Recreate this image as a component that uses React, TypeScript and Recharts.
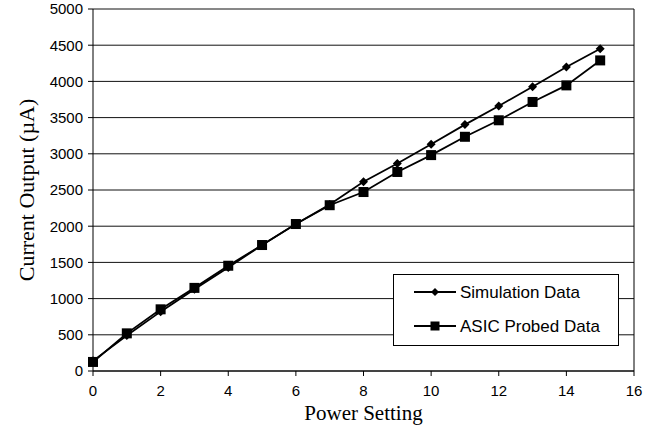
import { CartesianGrid, Line, LineChart, ReferenceLine, XAxis, YAxis, Label } from "recharts";

const POWER = [0, 1, 2, 3, 4, 5, 6, 7, 8, 9, 10, 11, 12, 13, 14, 15];
const SIMULATION = [140, 490, 820, 1130, 1430, 1740, 2030, 2300, 2615, 2866, 3133, 3403, 3661, 3926, 4198, 4450];
const ASIC_PROBED = [125, 520, 852, 1148, 1454, 1740, 2030, 2290, 2472, 2749, 2982, 3235, 3463, 3716, 3945, 4290];
const X_TICKS = [0, 2, 4, 6, 8, 10, 12, 14, 16];
const Y_TICKS = [0, 500, 1000, 1500, 2000, 2500, 3000, 3500, 4000, 4500, 5000];

const data = POWER.map((p, i) => ({ power: p, sim: SIMULATION[i], asic: ASIC_PROBED[i] }));

const Diamond = ({ cx, cy, r = 5 }: { cx: number; cy: number; r?: number }) => (
  <path d={`M${cx},${cy - r}L${cx + r},${cy}L${cx},${cy + r}L${cx - r},${cy}Z`} fill="#000" />
);
const Square = ({ cx, cy, s = 5 }: { cx: number; cy: number; s?: number }) => (
  <rect x={cx - s} y={cy - s} width={s * 2} height={s * 2} fill="#000" />
);

function LegendBox() {
  const row = (label: string, marker: "d" | "s") => (
    <div style={{ display: "flex", alignItems: "center", height: 34 }}>
      <svg width={44} height={14} style={{ marginLeft: 20 }}>
        <line x1={0} y1={7} x2={42} y2={7} stroke="#000" strokeWidth={1.8} />
        {marker === "d" ? <Diamond cx={21} cy={7} r={4} /> : <Square cx={21} cy={7} s={4.5} />}
      </svg>
      <span style={{ marginLeft: 2 }}>{label}</span>
    </div>
  );
  return (
    <div
      style={{
        position: "absolute",
        left: 393,
        top: 274,
        width: 224,
        height: 70,
        border: "1px solid #000",
        background: "#fff",
        fontFamily: "Arial, 'Liberation Sans', sans-serif",
        fontSize: 17,
        color: "#000",
        lineHeight: 1,
      }}
    >
      {row("Simulation Data", "d")}
      {row("ASIC Probed Data", "s")}
    </div>
  );
}

export default function App() {
  return (
    <div style={{ position: "absolute", left: 0, top: 0, width: 656, height: 439, background: "#fff" }}>
      <LineChart width={656} height={439} data={data} margin={{ top: 9, right: 22, left: 0, bottom: 0 }}>
        <CartesianGrid vertical={false} stroke="#111" strokeWidth={1} />
        <XAxis
          dataKey="power"
          type="number"
          domain={[0, 16]}
          ticks={X_TICKS}
          height={68}
          stroke="#000"
          tickSize={5}
          tickMargin={9}
          tick={{ fill: "#000", fontSize: 15, fontFamily: "Arial, 'Liberation Sans', sans-serif" }}
        >
          <Label
            value="Power Setting"
            position="insideBottom"
            offset={19}
            style={{ fill: "#000", fontSize: 21, fontFamily: "'Times New Roman', 'Liberation Serif', serif" }}
          />
        </XAxis>
        <YAxis
          type="number"
          domain={[0, 5000]}
          ticks={Y_TICKS}
          width={93}
          stroke="#000"
          tickSize={5}
          tickMargin={5}
          tick={{ fill: "#000", fontSize: 15, fontFamily: "Arial, 'Liberation Sans', sans-serif" }}
        >
          <Label
            value="Current Output (µA)"
            angle={-90}
            position="insideLeft"
            offset={26}
            style={{ textAnchor: "middle", fill: "#000", fontSize: 22, fontFamily: "'Times New Roman', 'Liberation Serif', serif" }}
          />
        </YAxis>
        <ReferenceLine x={16} stroke="#000" />
        <Line
          dataKey="sim"
          stroke="#000"
          strokeWidth={1.8}
          isAnimationActive={false}
          dot={(p: any) => <Diamond key={`d${p.index}`} cx={p.cx} cy={p.cy} r={4.5} />}
        />
        <Line
          dataKey="asic"
          stroke="#000"
          strokeWidth={1.8}
          isAnimationActive={false}
          dot={(p: any) => <Square key={`s${p.index}`} cx={p.cx} cy={p.cy} s={5} />}
        />
      </LineChart>
      <LegendBox />
    </div>
  );
}
